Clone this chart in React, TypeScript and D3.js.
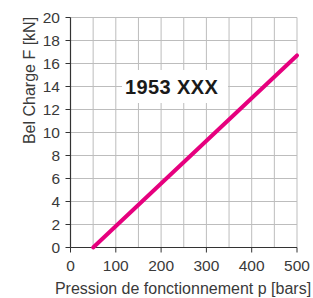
import * as d3 from "d3";

// courbe de charge
const pressions = [50, 500];
const charges = [0, 16.7];
const xTicks = [0, 100, 200, 300, 400, 500];
const yTicks = [0, 2, 4, 6, 8, 10, 12, 14, 16, 18, 20];
const xGrid = [0, 50, 100, 150, 200, 250, 300, 350, 400, 450, 500];
const label = "1953 XXX";

const W = 313;
const H = 298;
const m = { left: 70.5, right: 16, top: 17.5, bottom: 50.5 };

export default function App() {
  const x = d3.scaleLinear().domain([0, 500]).range([m.left, W - m.right]);
  const y = d3.scaleLinear().domain([0, 20]).range([H - m.bottom, m.top]);

  const data = pressions.map((p, i) => ({ p, f: charges[i] }));
  const path = d3
    .line<{ p: number; f: number }>()
    .x((d) => x(d.p))
    .y((d) => y(d.f))(data);

  const font = "Liberation Sans, Arial, sans-serif";
  const txt = "#3a3a3a";

  return (
    <div style={{ position: "fixed", left: 0, top: 0 }}>
      <svg width={W} height={H} style={{ display: "block" }}>
        <rect width={W} height={H} fill="#fff" />
        {/* grille */}
        {xGrid.map((v) => (
          <line key={"gx" + v} x1={x(v)} x2={x(v)} y1={y(0)} y2={y(20)} stroke="#bdbdbd" strokeWidth={1} />
        ))}
        {yTicks.map((v) => (
          <line key={"gy" + v} x1={x(0)} x2={x(500)} y1={y(v)} y2={y(v)} stroke="#bdbdbd" strokeWidth={1} />
        ))}
        {/* étiquette */}
        <rect x={122} y={70} width={106} height={33} fill="#fff" />
        <text x={125} y={93.5} fontFamily={font} fontWeight="bold" fontSize={20} fill="#1a1a1a" letterSpacing={0.4}>
          {label}
        </text>
        {/* axes */}
        <line x1={x(0)} x2={x(500)} y1={y(0)} y2={y(0)} stroke="#333" strokeWidth={1.2} />
        <line x1={x(0)} x2={x(0)} y1={y(0)} y2={y(20)} stroke="#333" strokeWidth={1.2} />
        {yTicks.map((v) => (
          <g key={"ty" + v}>
            <line x1={x(0) - 5} x2={x(0)} y1={y(v)} y2={y(v)} stroke="#333" strokeWidth={1} />
            <text x={x(0) - 10.5} y={y(v) + 5.5} textAnchor="end" fontFamily={font} fontSize={15.5} fill={txt}>
              {v}
            </text>
          </g>
        ))}
        {xTicks.map((v) => (
          <g key={"tx" + v}>
            <line x1={x(v)} x2={x(v)} y1={y(0)} y2={y(0) + 5} stroke="#333" strokeWidth={1} />
            <text x={x(v)} y={271} textAnchor="middle" fontFamily={font} fontSize={15.5} fill={txt}>
              {v}
            </text>
          </g>
        ))}
        {/* courbe */}
        <path d={path ?? ""} fill="none" stroke="#e6007e" strokeWidth={4} strokeLinecap="round" />
        {/* titres */}
        <text
          transform="translate(35,80.5) rotate(-90)"
          textAnchor="middle"
          fontFamily={font}
          fontSize={16}
          fill={txt}
        >
          Bel Charge F [kN]
        </text>
        <text x={183} y={294} textAnchor="middle" fontFamily={font} fontSize={16} fill={txt}>
          Pression de fonctionnement p [bars]
        </text>
      </svg>
    </div>
  );
}
